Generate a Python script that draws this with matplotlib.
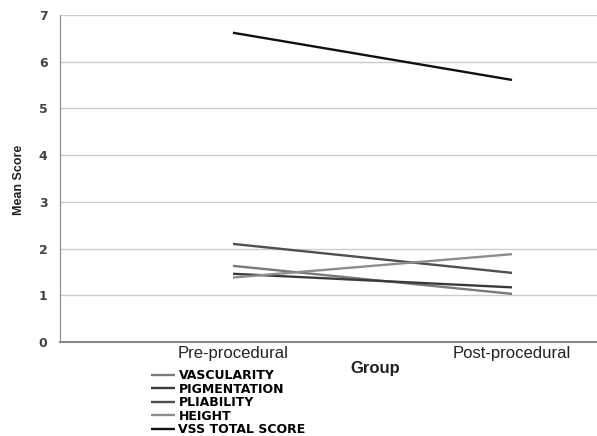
import matplotlib.pyplot as plt
import numpy as np

groups = ["Pre-procedural", "Post-procedural"]
series = ["VASCULARITY", "PIGMENTATION", "PLIABILITY", "HEIGHT", "VSS TOTAL SCORE"]
vascularity = [1.63, 1.03]
pigmentation = [1.46, 1.17]
pliability = [2.10, 1.48]
height = [1.38, 1.88]
vss_total = [6.62, 5.61]

values = [vascularity, pigmentation, pliability, height, vss_total]
colors = ["#7a7a7a", "#3a3a3a", "#505050", "#8c8c8c", "#111111"]

fig = plt.figure(figsize=(5.97, 4.36), dpi=100)
ax = fig.add_axes([60 / 597, 94 / 436, 625 / 597, 327 / 436])

x = np.arange(len(groups))
for name, vals, c in zip(series, values, colors):
    ax.plot(x, vals, color=c, lw=1.7, label=name, solid_capstyle="butt")

ax.set_xlim(-0.62, 1.62)
ax.set_ylim(0, 7)
ax.set_xticks(x)
ax.set_xticklabels(groups, fontsize=12, family="Liberation Sans", color="#222222")
ax.set_yticks(range(8))
ax.set_yticklabels([str(i) for i in range(8)], fontsize=9, fontweight="bold", color="#444444")
ax.tick_params(length=0, pad=9)
ax.tick_params(axis="x", pad=3)
ax.grid(axis="y", color="#cccccc", lw=1)
ax.set_axisbelow(True)
for s in ["top", "right"]:
    ax.spines[s].set_visible(False)
ax.spines["left"].set_color("#888888")
ax.spines["bottom"].set_color("#888888")
ax.spines["bottom"].set_linewidth(1.5)

fig.text(375 / 597, 1 - 368 / 436, "Group", ha="center", va="center",
         fontsize=12, fontweight="bold", family="Liberation Sans", color="#222222")
fig.text(19 / 597, 1 - 180 / 436, "Mean Score", ha="center", va="center",
         rotation=90, fontsize=9, fontweight="bold", family="Liberation Sans",
         color="#222222")

fig.legend(loc="upper left", bbox_to_anchor=(151 / 597, 1 - 369 / 436),
           frameon=False, prop={"size": 9, "weight": "bold"},
           handlelength=1.95, handletextpad=0.25, labelspacing=0.04,
           borderpad=0, borderaxespad=0)

fig.savefig("out.png", dpi=100)
